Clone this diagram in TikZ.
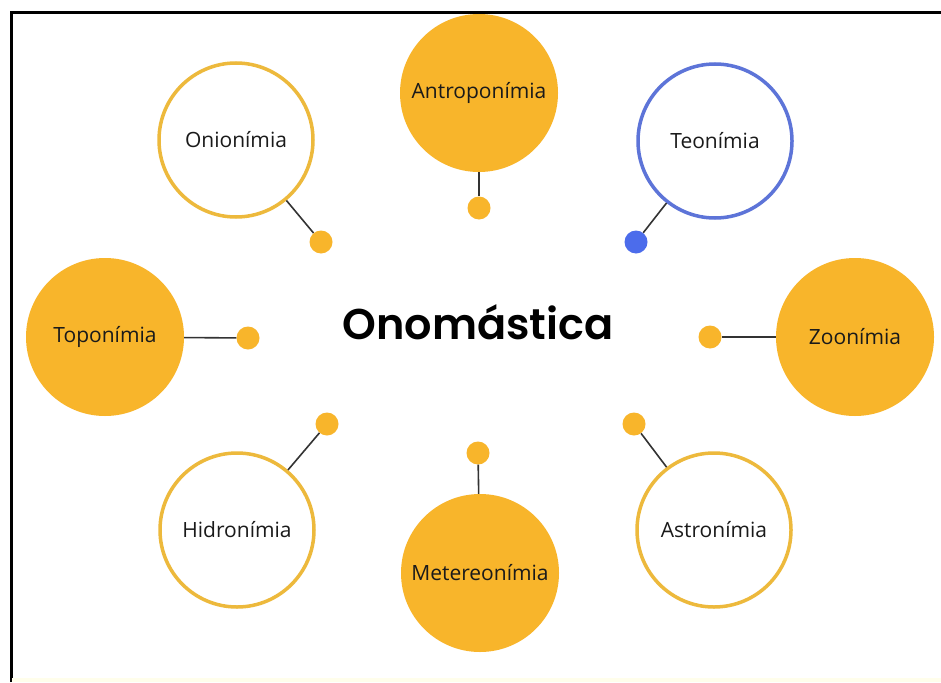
\documentclass[tikz,border=0pt]{standalone}
\usepackage{fontspec}
\setmainfont{Open Sans}
\newfontfamily\titlefont{Poppins}[BoldFont={Poppins SemiBold}]
\definecolor{fillor}{HTML}{F8B52B}
\definecolor{ringor}{HTML}{EDB93C}
\definecolor{ringbl}{HTML}{5D74D8}
\definecolor{dotbl}{HTML}{4C6CEB}
\definecolor{txt}{HTML}{1A1A1A}
\begin{document}
\begin{tikzpicture}[x=1pt,y=-1pt,
  filled/.style={circle,fill=fillor,minimum size=158pt,inner sep=0pt,font=\fontsize{21}{24}\selectfont,text=txt},
  ring/.style={circle,draw=ringor,line width=3.5pt,fill=white,minimum size=154pt,inner sep=0pt,font=\fontsize{21}{24}\selectfont,text=txt},
  ringb/.style={ring,draw=ringbl},
  dot/.style={circle,fill=fillor,minimum size=23pt,inner sep=0pt},
  dotb/.style={dot,fill=dotbl},
  link/.style={draw=black!80,line width=1.6pt}]
\useasboundingbox (0,0) rectangle (941,682);
\fill[white] (0,0) rectangle (941,682);
\draw[line width=3pt] (11,682) -- (11,13) -- (941,13);
\fill[yellow!8] (12,678) rectangle (941,682);

\node[font=\titlefont\fontsize{43}{48}\selectfont\bfseries] (c) at (478,322) {Onomástica};

\node[filled] (an) at (479,93) {Antroponímia};
\node[ringb] (te) at (715,141) {Teonímia};
\node[ring] (on) at (236,140) {Onionímia};
\node[filled] (to) at (105,337) {Toponímia};
\node[filled] (zo) at (855,337) {Zoonímia};
\node[ring] (hi) at (237,530) {Hidronímia};
\node[filled] (me) at (480,573) {Metereonímia};
\node[ring] (as) at (714,530) {Astronímia};

\node[dot] (dan) at (479,208) {};
\node[dotb] (dte) at (636,242) {};
\node[dot] (don) at (321,242) {};
\node[dot] (dto) at (248,338) {};
\node[dot] (dzo) at (710,337) {};
\node[dot] (dhi) at (327,424) {};
\node[dot] (dme) at (478,453) {};
\node[dot] (das) at (634,424) {};

\draw[link] (an) -- (dan);
\draw[link] (te) -- (dte);
\draw[link] (on) -- (don);
\draw[link] (to) -- (dto);
\draw[link] (zo) -- (dzo);
\draw[link] (hi) -- (dhi);
\draw[link] (me) -- (dme);
\draw[link] (as) -- (das);
\end{tikzpicture}
\end{document}
